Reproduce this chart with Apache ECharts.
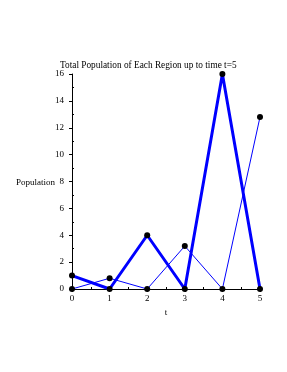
<!DOCTYPE html>
<html><head><meta charset="utf-8">
<script src="https://cdn.jsdelivr.net/npm/echarts@6/dist/echarts.min.js"></script>
<style>html,body{margin:0;padding:0;background:#fff}#c{width:287px;height:372px}</style>
</head><body><div id="c"></div>
<script>
const times = [0, 1, 2, 3, 4, 5];
const regionA = [1, 0, 4, 0, 16, 0];
const regionB = [0, 0.8, 0, 3.2, 0, 12.8];
const titleText = 'Total Population of Each Region up to time t=5';
const xName = 't';
const yName = 'Population';

const font = 'Liberation Serif';
const chart = echarts.init(document.getElementById('c'));
const pairs = (ys) => times.map((t, i) => [t, ys[i]]);
chart.setOption({
  animation: false,
  title: {text: titleText, left: 55, top: 56, textStyle: {fontFamily: font, fontSize: 9.3, fontWeight: 'normal', color: '#000'}},
  grid: {left: 72, right: 27, top: 74, bottom: 83},
  xAxis: {
    type: 'value', min: 0, max: 5, interval: 1,
    name: xName, nameLocation: 'middle', nameGap: 9,
    nameTextStyle: {fontFamily: font, fontSize: 9, color: '#000'},
    axisLine: {onZero: false, lineStyle: {color: '#000', width: 1}},
    axisTick: {show: true, length: 3, lineStyle: {color: '#000'}},
    minorTick: {show: true, splitNumber: 2, length: -2, lineStyle: {color: '#000'}},
    axisLabel: {fontFamily: font, fontSize: 9, color: '#000', margin: 5},
    splitLine: {show: false}
  },
  yAxis: {
    type: 'value', min: 0, max: 16, interval: 2,
    axisLine: {show: true, onZero: false, lineStyle: {color: '#000', width: 1}},
    axisTick: {show: true, length: 3, lineStyle: {color: '#000'}},
    minorTick: {show: true, splitNumber: 2, length: -2, lineStyle: {color: '#000'}},
    axisLabel: {fontFamily: font, fontSize: 9, color: '#000', margin: 8},
    splitLine: {show: false}
  },
  graphic: [{type: 'text', left: 16, top: 178, style: {text: yName, font: '9px "Liberation Serif"', fill: '#000'}}],
  series: [
    {type: 'line', data: pairs(regionB), lineStyle: {color: '#0000ff', width: 1}, symbol: 'circle', symbolSize: 6, itemStyle: {color: '#000'}, z: 3},
    {type: 'line', data: pairs(regionA), lineStyle: {color: '#0000ff', width: 3}, symbol: 'circle', symbolSize: 6, itemStyle: {color: '#000'}, z: 4}
  ]
});
</script></body></html>
